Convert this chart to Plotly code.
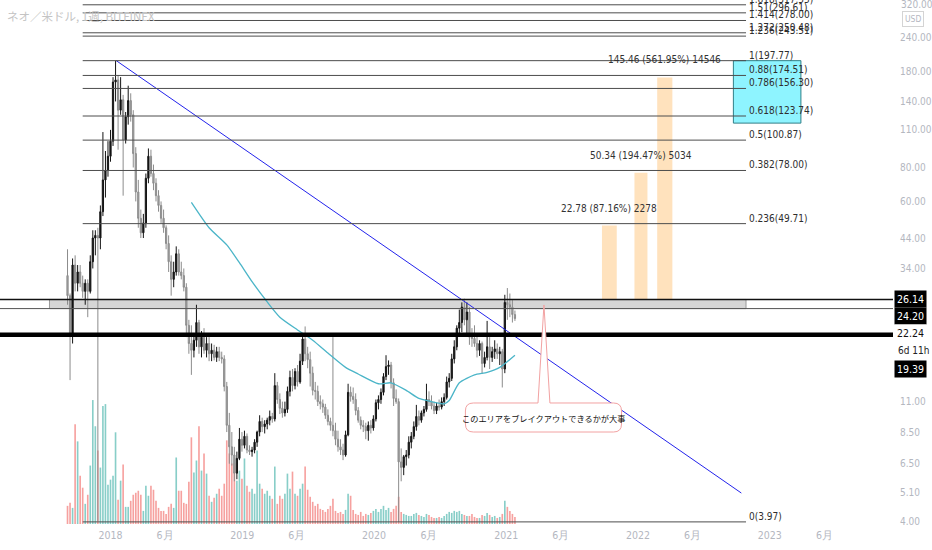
import numpy as np
import pandas as pd
import plotly.graph_objects as go

# NEO / USD weekly candles (Bitfinex)
TITLE = "ネオ／米ドル, 1週, BITFINEX"
FIRST_WEEK = "2017-09-04"

opens = [32, 27, 19.6, 35, 30, 33, 30, 28, 30, 28,
         36, 44, 45, 44, 55, 72, 78, 88, 100, 165,
         168, 130, 142, 101, 123, 141, 125, 90, 65, 52,
         46, 50, 73, 88, 76, 70, 63, 58, 52, 48,
         42, 36, 31, 33, 38.5, 33, 32, 29, 21, 18,
         17, 18.5, 21.5, 17.5, 19, 17, 18, 16.5, 17, 16,
         16.8, 16, 15.8, 12.5, 9, 7.5, 7, 6, 6.8, 8,
         7.6, 8.2, 7.3, 7.2, 7.3, 7.8, 8.5, 9.3, 8.9, 9.1,
         9.4, 9.7, 9.5, 12.6, 11.2, 10.4, 10.0, 10.3, 12, 13.5,
         12.6, 14.2, 13, 15.5, 18.7, 16.5, 15.7, 14, 12.1, 12,
         11, 10.8, 10.5, 9.8, 9.3, 9, 8.6, 8.0, 7.5, 7.3,
         7.0, 8.3, 11.9, 11.5, 11.2, 10.2, 9.4, 9.0, 8.9, 8.6,
         9.0, 8.8, 9.5, 10.9, 11.2, 11.9, 13.6, 14.8, 15, 12.9,
         11.3, 11, 6.6, 6.3, 6.9, 7.0, 7.8, 8.2, 8.9, 9.7,
         9.4, 10.0, 10.3, 11.2, 11.0, 10.6, 10.2, 10.6, 10.5, 11.0,
         11.4, 13, 13.4, 15.8, 17.5, 20.5, 21.5, 24.5, 22, 23.5,
         19, 18.8, 18, 17, 18, 15.2, 16, 17.5, 16, 16.8,
         17.2, 16.5, 16.8, 14.5, 25.5, 25, 24.5, 23]
highs = [40, 27.5, 37, 38, 35, 35, 32, 31, 31, 38,
         47, 47, 48, 58, 108, 92, 100, 110, 172, 197.77,
         175, 172, 148, 128, 160, 150, 130, 95, 72, 56,
         54, 76, 94, 93, 82, 73, 66, 60, 56, 49,
         45, 38, 36, 41, 40, 36, 34, 30, 22, 21,
         19.5, 25, 22, 20, 20.5, 19, 19, 18, 17.8, 17.5,
         17.5, 16.8, 16.3, 13, 10, 8.5, 7.5, 7.2, 8.8, 8.5,
         8.6, 8.4, 7.6, 7.5, 8.0, 8.6, 9.8, 9.6, 9.4, 9.6,
         10.2, 10.0, 14, 13, 11.8, 11.0, 11.0, 12.5, 14.3, 14.5,
         14.6, 15.0, 16.5, 19.5, 20.8, 17.5, 16.8, 14.8, 13.0, 12.6,
         11.6, 11.2, 10.8, 10.3, 9.6, 19, 9.2, 8.6, 8.0, 7.7,
         8.6, 12.8, 12.5, 12.4, 11.8, 10.5, 9.7, 9.4, 9.2, 9.3,
         9.4, 9.8, 11.2, 11.6, 12.3, 14, 16.3, 15.6, 15.4, 13.4,
         12.2, 11.3, 7.4, 7.0, 7.3, 8.2, 8.5, 9.3, 10.7, 10.2,
         10.2, 10.6, 12.8, 12.0, 11.6, 11.0, 10.9, 11.2, 11.4, 11.8,
         13.6, 14, 16.5, 18.5, 21, 24, 25.5, 26.3, 25.5, 24.5,
         20.5, 21, 19.5, 18.5, 18.3, 16.8, 21.8, 19, 17.5, 18.5,
         18, 17.5, 17.2, 27.2, 28.8, 27.5, 26, 23.8]
lows = [25, 13.2, 18, 28, 28, 29, 26.5, 25, 22.5, 27.5,
        34, 38, 4.0, 40, 53, 62, 74, 84, 96, 140,
        93, 125, 63, 98, 115, 118, 80, 60, 48, 44,
        44, 48, 70, 74, 66, 60, 55, 50, 46, 40,
        33, 27, 29, 32, 32, 31, 28, 19, 16.5, 13.8,
        16, 17.5, 16.5, 16, 16.5, 16, 15.5, 15.5, 15.6, 15.4,
        15.5, 15.2, 12, 8.5, 6.5, 6.4, 5.6, 5.7, 6.7, 7.2,
        7.4, 7.1, 7.0, 6.9, 7.1, 7.5, 8.2, 8.5, 8.4, 8.7,
        9.0, 9.2, 9.3, 10.8, 9.9, 9.6, 9.7, 10.0, 11.5, 12,
        12.2, 12.5, 12.8, 15, 15.5, 14.6, 12.5, 11.6, 11.2, 10.6,
        10.3, 10.0, 9.5, 9.0, 8.6, 8.2, 7.6, 7.2, 7.0, 6.7,
        6.9, 8.2, 11.0, 10.8, 9.8, 9.2, 8.7, 8.5, 8.0, 7.9,
        8.4, 8.6, 9.3, 10.3, 10.8, 11.6, 13.2, 13.8, 12.3, 10.6,
        10.8, 3.97, 5.6, 5.9, 6.4, 6.8, 7.4, 8.0, 8.6, 9.0,
        9.2, 9.7, 10.1, 10.6, 10.3, 9.9, 9.9, 10.2, 10.3, 10.6,
        11.2, 12.4, 13.1, 15.2, 17, 19.5, 19.8, 21, 19.5, 17.8,
        17.5, 17.5, 16, 16.2, 13.9, 14.7, 15.6, 14.5, 15.4, 15.8,
        15.8, 15.0, 12.4, 14.0, 22, 22.5, 21.5, 21.8]
closes = [27, 19.6, 35, 30, 33, 30, 28, 30, 28, 36,
          44, 45, 44, 55, 72, 78, 88, 100, 165, 168,
          130, 142, 101, 123, 141, 125, 90, 65, 52, 46,
          50, 73, 88, 76, 70, 63, 58, 52, 48, 42,
          36, 31, 33, 38.5, 33, 32, 29, 21, 18, 17,
          18.5, 21.5, 17.5, 19, 17, 18, 16.5, 17, 16, 16.8,
          16, 15.8, 12.5, 9, 7.5, 7, 6.0, 6.8, 8.0, 7.6,
          8.2, 7.3, 7.2, 7.3, 7.8, 8.5, 9.3, 8.9, 9.1, 9.4,
          9.7, 9.5, 12.6, 11.2, 10.4, 10.0, 10.3, 12.0, 13.5, 12.6,
          14.2, 13.0, 15.5, 18.7, 16.5, 15.7, 14.0, 12.1, 12.0, 11.0,
          10.8, 10.5, 9.8, 9.3, 9.0, 8.6, 8.0, 7.5, 7.3, 7.0,
          8.3, 11.9, 11.5, 11.2, 10.2, 9.4, 9.0, 8.9, 8.6, 9.0,
          8.8, 9.5, 10.9, 11.2, 11.9, 13.6, 14.8, 15.0, 12.9, 11.3,
          11.0, 6.6, 6.3, 6.9, 7.0, 7.8, 8.2, 8.9, 9.7, 9.4,
          10.0, 10.3, 11.2, 11.0, 10.6, 10.2, 10.6, 10.5, 11.0, 11.4,
          13.0, 13.4, 15.8, 17.5, 20.5, 21.5, 24.5, 22.0, 23.5, 19.0,
          18.8, 18.0, 17.0, 18.0, 15.2, 16.0, 17.5, 16.0, 16.8, 17.2,
          16.5, 16.8, 14.5, 25.5, 25.0, 24.5, 23.0, 22.24]
volumes = [18, 21, 16, 99, 82, 48, 36, 20, 29, 58,
           123, 97, 73, 56, 117, 119, 39, 44, 48, 91,
           24, 43, 59, 17, 17, 23, 29, 31, 33, 29,
           13, 38, 28, 38, 34, 23, 16, 13, 13, 10,
           17, 20, 16, 66, 33, 33, 21, 20, 42, 86,
           51, 63, 97, 53, 70, 50, 28, 22, 26, 30,
           35, 28, 40, 83, 70, 60, 60, 43, 53, 45,
           65, 38, 32, 35, 30, 73, 40, 35, 30, 33,
           28, 25, 57, 20, 28, 25, 30, 50, 35, 52,
           30, 28, 35, 40, 57, 34, 27, 22, 18, 20,
           15, 14, 12, 15, 18, 25, 13, 11, 12, 10,
           14, 30, 28, 14, 10, 9, 12, 8, 10, 9,
           11, 13, 15, 12, 15, 18, 14, 16, 12, 15,
           18, 27, 12, 10, 9, 8, 8, 10, 11, 9,
           8, 7, 10, 9, 7, 6, 6, 7, 6, 8,
           10, 12, 11, 13, 12, 13, 10, 9, 8, 8,
           10, 7, 6, 6, 9, 8, 11, 9, 7, 8,
           6, 7, 10, 23, 17, 13, 10, 7]

# moving average
ma_dates = ["2018-08-13", "2018-10-01", "2018-11-19", "2018-12-24", "2019-01-28",
            "2019-03-11", "2019-04-15", "2019-06-03", "2019-07-15", "2019-08-26",
            "2019-10-14", "2019-11-18", "2020-01-13", "2020-02-17", "2020-03-30",
            "2020-05-04", "2020-06-08", "2020-07-13", "2020-07-27", "2020-08-24",
            "2020-10-05", "2020-11-09", "2020-12-14", "2021-01-25"]
ma_values = [59.5, 48, 41.5, 35.7, 30.4, 25.6, 22.5, 20.2, 18.5, 16.6,
             14.7, 13.9, 12.8, 12.9, 12.1, 11.3, 11.0, 10.8, 11.1, 12.9,
             13.8, 14.1, 14.7, 16.3]

# drawings
trend_dates = ["2018-01-17", "2022-10-14"]
trend_values = [197.77, 5.07]

fib_levels = [0, 0.236, 0.382, 0.5, 0.618, 0.786, 0.88, 1, 1.236, 1.272, 1.414, 1.51, 1.618]
fib_prices = [3.97, 49.71, 78.00, 100.87, 123.74, 156.30, 174.51, 197.77,
              243.51, 250.48, 278.00, 296.61, 317.55]
fib_start, fib_end = "2017-10-16", "2022-10-27"

zone_top, zone_bottom = 26.14, 24.20
zone_start = "2017-07-16"
support = 19.39
last_price = 22.24

target_starts = ["2021-09-23", "2021-12-22", "2022-02-23"]
target_ends = ["2021-11-03", "2022-01-27", "2022-04-06"]
target_tops = [48.92, 76.48, 171.60]
target_texts = ["22.78 (87.16%) 2278", "50.34 (194.47%) 5034", "145.46 (561.95%) 14546"]

box_start, box_end = "2022-09-22", "2023-03-28"
box_top, box_bottom = 197.77, 116.5

callout_text = "このエリアをブレイクアウトできるかが大事"

y_ticks = [320, 240, 180, 140, 110, 80, 60, 44, 34, 26, 20, 15, 11, 8.5, 6.5, 5.1, 4]
x_ticks = ["2018-01-01", "2018-06-01", "2019-01-01", "2019-06-01", "2020-01-01", "2020-06-01",
           "2021-01-01", "2021-06-01", "2022-01-01", "2022-06-01", "2023-01-01", "2023-06-01"]
x_labels = ["2018", "6月", "2019", "6月", "2020", "6月", "2021", "6月", "2022", "6月", "2023", "6月"]

NARROW = "Liberation Sans Narrow, DejaVu Sans Condensed, Roboto Condensed, Roboto, sans-serif"
JP = "Noto Sans CJK JP, Noto Sans, sans-serif"
AXIS_GREY = "#b4b7bf"
W, H = 898.0, 524.0   # plot area in px

dates = pd.date_range(FIRST_WEEK, periods=len(closes), freq="7D")
vol_colors = ["rgba(38,166,154,0.55)" if c >= o else "rgba(239,83,80,0.55)"
              for o, c in zip(opens, closes)]

fig = go.Figure()
fig.add_trace(go.Bar(x=dates, y=volumes, marker_color=vol_colors,
                     marker_line_width=0, yaxis="y", hoverinfo="skip"))
fig.add_trace(go.Candlestick(
    x=dates, open=opens, high=highs, low=lows, close=closes, yaxis="y2",
    increasing=dict(line=dict(color="#151515", width=1), fillcolor="#151515"),
    decreasing=dict(line=dict(color="#8c8c8c", width=1), fillcolor="#a3a3a3"),
    whiskerwidth=0))
fig.add_trace(go.Scatter(x=ma_dates, y=ma_values, yaxis="y2", mode="lines",
                         line=dict(color="#4bb5c8", width=1.3, shape="spline", smoothing=0.6)))
fig.add_trace(go.Scatter(x=trend_dates, y=trend_values, yaxis="y2", mode="lines",
                         line=dict(color="#2323ec", width=1)))

shapes = []
ann = []

# cyan box behind the fib labels
shapes.append(dict(type="rect", xref="x", yref="y2", x0=box_start, x1=box_end,
                   y0=box_bottom, y1=box_top, fillcolor="#8ef4ff",
                   line=dict(color="#2f7f88", width=1), layer="below"))

# projection columns
for s, e, top, txt in zip(target_starts, target_ends, target_tops, target_texts):
    shapes.append(dict(type="rect", xref="x", yref="y2", x0=s, x1=e, y0=zone_top, y1=top,
                       fillcolor="#ffe2bd", line=dict(width=0), layer="below"))
    mid = pd.to_datetime(s) + (pd.to_datetime(e) - pd.to_datetime(s)) / 2
    ann.append(dict(x=mid, y=np.log10(top), xref="x", yref="y2", text=txt, showarrow=False,
                    yanchor="bottom", yshift=10, font=dict(size=10, color="#333", family=NARROW)))

# resistance zone
shapes.append(dict(type="rect", xref="x", yref="y2", x0=zone_start, x1=fib_end,
                   y0=zone_bottom, y1=zone_top, fillcolor="#d6d6d6",
                   line=dict(color="#9a9a9a", width=1), layer="below"))
shapes.append(dict(type="line", xref="paper", yref="y2", x0=0, x1=1, y0=zone_top, y1=zone_top,
                   line=dict(color="#111", width=1.6)))
shapes.append(dict(type="line", xref="paper", yref="y2", x0=0, x1=1, y0=zone_bottom, y1=zone_bottom,
                   line=dict(color="#555", width=1)))
shapes.append(dict(type="line", xref="paper", yref="y2", x0=0, x1=1, y0=support, y1=support,
                   line=dict(color="#000", width=4.5)))

# fibonacci retracement
for lvl, p in zip(fib_levels, fib_prices):
    shapes.append(dict(type="line", xref="x", yref="y2", x0=fib_start, x1=fib_end, y0=p, y1=p,
                       line=dict(color="#4d4d4d", width=1)))
    ann.append(dict(x=fib_end, y=np.log10(p), xref="x", yref="y2", text=f"{lvl:g}({p:.2f})",
                    showarrow=False, xanchor="left", yanchor="bottom", xshift=1, yshift=-2,
                    font=dict(size=10, color="#2e2e2e", family=NARROW)))


def pp(x, y):
    return f"{x / W:.5f},{1 - y / H:.5f}"


# speech bubble
bx0, bx1, by0, by1, r = 468, 625, 403, 432, 8
sx0, sx1, tipx, tipy = 541, 553, 547, 305
path = (f"M{pp(bx0 + r, by0)} L{pp(sx0, by0)} L{pp(tipx, tipy)} L{pp(sx1, by0)} "
        f"L{pp(bx1 - r, by0)} Q{pp(bx1, by0)} {pp(bx1, by0 + r)} L{pp(bx1, by1 - r)} "
        f"Q{pp(bx1, by1)} {pp(bx1 - r, by1)} L{pp(bx0 + r, by1)} Q{pp(bx0, by1)} {pp(bx0, by1 - r)} "
        f"L{pp(bx0, by0 + r)} Q{pp(bx0, by0)} {pp(bx0 + r, by0)} Z")
shapes.append(dict(type="path", xref="paper", yref="paper", path=path,
                   fillcolor="white", line=dict(color="#f2a2a2", width=1)))
ann.append(dict(x=(bx0 + bx1) / 2 / W, y=1 - (by0 + by1) / 2 / H, xref="paper", yref="paper",
                text=callout_text, showarrow=False, yanchor="middle",
                font=dict(size=8.2, color="#111", family=JP)))

# title
ann.append(dict(x=5 / W, y=1 - 16 / H, xref="paper", yref="paper", text=TITLE, showarrow=False,
                xanchor="left", yanchor="middle", font=dict(size=11.5, color="#c4c4c4", family=JP)))

# price scale badges
for val, shift, boxed in [(zone_top, 0, True), (zone_bottom, -7.5, True),
                          (last_price, -14.5, False), (support, -34, True)]:
    ann.append(dict(x=1, y=np.log10(val), xref="paper", yref="y2", text=f"{val:.2f}",
                    showarrow=False, xanchor="left", xshift=1, yshift=shift, width=27,
                    bgcolor="#000" if boxed else "white", borderpad=2,
                    font=dict(size=10.5, color="white" if boxed else "#111", family=NARROW)))
ann.append(dict(x=1, y=np.log10(last_price), xref="paper", yref="y2", text="6d 11h",
                showarrow=False, xanchor="left", xshift=3, yshift=-31.5,
                font=dict(size=10, color="#222", family=NARROW)))
# top scale label that plotly drops because it sits on the edge
ann.append(dict(x=1, y=np.log10(y_ticks[0]), xref="paper", yref="y2", text=f"{y_ticks[0]:.2f}",
                showarrow=False, xanchor="left", xshift=6, yanchor="middle", yshift=-1,
                font=dict(size=10, color=AXIS_GREY, family=NARROW)))
ann.append(dict(x=1, y=1 - 19 / H, xref="paper", yref="paper", text="USD", showarrow=False,
                xanchor="left", yanchor="middle", xshift=9, bordercolor="#d4d4d4",
                borderwidth=1, borderpad=2,
                font=dict(size=8.5, color=AXIS_GREY, family=NARROW)))

fig.update_layout(
    width=932, height=550,
    margin=dict(l=0, r=932 - W, t=0, b=550 - H),
    paper_bgcolor="white", plot_bgcolor="white",
    showlegend=False, bargap=0.35,
    shapes=shapes, annotations=ann,
    xaxis=dict(type="date", range=["2017-03-01", "2023-12-08"], tickvals=x_ticks, ticktext=x_labels,
               showgrid=False, zeroline=False, showline=False, ticks="",
               ticklabelstandoff=3,
               tickfont=dict(size=10.5, color=AXIS_GREY, family=NARROW),
               rangeslider=dict(visible=False)),
    yaxis=dict(range=[0, 520], visible=False, fixedrange=True),
    yaxis2=dict(overlaying="y", side="right", type="log",
                range=[np.log10(3.90), np.log10(330.7)],
                tickvals=y_ticks[1:], ticktext=[f"{v:.2f}" for v in y_ticks[1:]],
                showgrid=False, zeroline=False, showline=False, ticks="",
                ticklabelstandoff=6,
                tickfont=dict(size=10, color=AXIS_GREY, family=NARROW)),
)

# drop the default page margin so the figure sits at the window's corner
fig.write_html("out.html", config={"displayModeBar": False},
               post_script="document.body.style.margin='0px';")
